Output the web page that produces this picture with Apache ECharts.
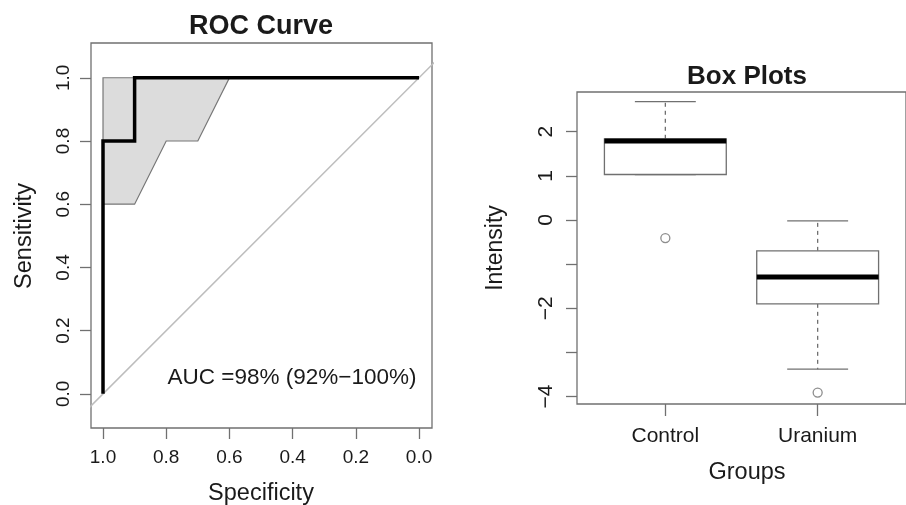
<!DOCTYPE html>
<html><head><meta charset="utf-8">
<script src="https://cdn.jsdelivr.net/npm/echarts@6/dist/echarts.min.js"></script>
<style>html,body{margin:0;padding:0;background:#fff}#c{width:906px;height:505px}</style>
</head><body><div id="c"></div>
<script>
// ROC data (specificity, sensitivity)
var rocSpec = [1.0, 1.0, 0.9, 0.9, 0.0];
var rocSens = [0.0, 0.8, 0.8, 1.0, 1.0];
// confidence band polygon (specificity, sensitivity)
var ciSpec = [1.0, 1.0, 0.6, 0.7, 0.8, 0.9, 1.0];
var ciSens = [0.6, 1.0, 1.0, 0.8, 0.8, 0.6, 0.6];
var rocTicks = [0, 0.2, 0.4, 0.6, 0.8, 1.0];
var aucText = 'AUC =98% (92%\u2212100%)';

// Box plot data
var groups = ['Control', 'Uranium'];
var lowerWhisker = [1.03, -3.38];
var q1 = [1.03, -1.90];
var median = [1.79, -1.29];
var q3 = [1.84, -0.70];
var upperWhisker = [2.68, -0.02];
var outliers = [[-0.41], [-3.91]];
var boxYTicks = [-4, -3, -2, -1, 0, 1, 2];
var boxYLabels = [-4, -2, 0, 1, 2];

var FONT = 'Liberation Sans, Arial, sans-serif';
var TXT = '#1a1a1a';
var GREY = '#707070';
function minus(v){ return String(v).replace('-', '\u2212'); }

var rocData = rocSpec.map(function(s,i){return [s, rocSens[i]];});
var ciData = ciSpec.map(function(s,i){return [s, ciSens[i]];});
var boxData = groups.map(function(g,i){return [i+1, lowerWhisker[i], q1[i], median[i], q3[i], upperWhisker[i]];});
var outData = [];
outliers.forEach(function(arr,i){arr.forEach(function(v){outData.push([i+1, v]);});});

var chart = echarts.init(document.getElementById('c'), null, {renderer:'canvas'});
chart.setOption({
  animation: false,
  backgroundColor: '#fff',
  grid: [
    {left: 91, top: 43, width: 341, height: 385, show: true, borderColor: GREY, borderWidth: 1.3, backgroundColor: 'transparent'},
    {left: 577, top: 92, width: 342, height: 312, show: true, borderColor: GREY, borderWidth: 1.3, backgroundColor: 'transparent'}
  ],
  xAxis: [
    {type:'value', gridIndex:0, inverse:true, min:-0.041, max:1.038,
     splitLine:{show:false}, axisLine:{show:false, onZero:false},
     axisTick:{show:true, length:11, customValues: rocTicks, lineStyle:{color:GREY, width:1.3}},
     axisLabel:{customValues: rocTicks, margin:20, fontSize:19, color:TXT, fontFamily:FONT,
       formatter:function(v){return v.toFixed(1);}}},
    {type:'value', gridIndex:1, min:0.42, max:2.58,
     splitLine:{show:false}, axisLine:{show:false, onZero:false},
     axisTick:{show:true, length:12, customValues:[1,2], lineStyle:{color:GREY, width:1.3}},
     axisLabel:{customValues:[1,2], margin:22, fontSize:21, color:TXT, fontFamily:FONT,
       formatter:function(v){return groups[Math.round(v)-1];}}}
  ],
  yAxis: [
    {type:'value', gridIndex:0, min:-0.108, max:1.11,
     splitLine:{show:false}, axisLine:{show:false, onZero:false},
     axisTick:{show:true, length:11, customValues: rocTicks, lineStyle:{color:GREY, width:1.3}},
     axisLabel:{customValues: rocTicks, rotate:90, margin:18, fontSize:19, color:TXT, fontFamily:FONT,
       formatter:function(v){return v.toFixed(1);}}},
    {type:'value', gridIndex:1, min:-4.17, max:2.90,
     splitLine:{show:false}, axisLine:{show:false, onZero:false},
     axisTick:{show:true, length:11, customValues: boxYTicks, lineStyle:{color:GREY, width:1.3}},
     axisLabel:{customValues: boxYLabels, rotate:90, margin:20, fontSize:21, color:TXT, fontFamily:FONT,
       formatter:function(v){return minus(v);}}}
  ],
  series: [
    {type:'custom', xAxisIndex:0, yAxisIndex:0, clip:true, data:[0],
     renderItem:function(params, api){
       var pts = ciData.map(function(d){return api.coord(d);});
       return {type:'polygon', shape:{points:pts}, style:{fill:'#dcdcdc', stroke:'#777', lineWidth:1.2}};
     }},
    {type:'line', xAxisIndex:0, yAxisIndex:0, data:[[1.1,-0.1],[-0.1,1.1]], clip:true,
     showSymbol:false, symbol:'none', lineStyle:{color:'#bdbdbd', width:1.5}, silent:true},
    {type:'line', xAxisIndex:0, yAxisIndex:0, data: rocData, showSymbol:false, symbol:'none',
     lineStyle:{color:'#000', width:3.5, join:'miter'}, silent:true},
    {type:'custom', xAxisIndex:1, yAxisIndex:1, data: boxData, clip:true,
     renderItem:function(params, api){
       var x = api.value(0);
       var lw = api.value(1), b1 = api.value(2), md = api.value(3), b3 = api.value(4), uw = api.value(5);
       var half = 0.4, cap = 0.2;
       function c(a,b){return api.coord([a,b]);}
       var pL = c(x-half, b3), pR = c(x+half, b1);
       var ch = [];
       ch.push({type:'line', shape:{x1:c(x,b3)[0], y1:c(x,b3)[1], x2:c(x,uw)[0], y2:c(x,uw)[1]}, style:{stroke:GREY, lineWidth:1.3, lineDash:[4,4]}});
       ch.push({type:'line', shape:{x1:c(x,b1)[0], y1:c(x,b1)[1], x2:c(x,lw)[0], y2:c(x,lw)[1]}, style:{stroke:GREY, lineWidth:1.3, lineDash:[4,4]}});
       ch.push({type:'line', shape:{x1:c(x-cap,uw)[0], y1:c(x-cap,uw)[1], x2:c(x+cap,uw)[0], y2:c(x+cap,uw)[1]}, style:{stroke:GREY, lineWidth:1.3}});
       ch.push({type:'line', shape:{x1:c(x-cap,lw)[0], y1:c(x-cap,lw)[1], x2:c(x+cap,lw)[0], y2:c(x+cap,lw)[1]}, style:{stroke:GREY, lineWidth:1.3}});
       ch.push({type:'rect', shape:{x:pL[0], y:pL[1], width:pR[0]-pL[0], height:pR[1]-pL[1]}, style:{fill:'#fff', stroke:GREY, lineWidth:1.3}});
       ch.push({type:'line', shape:{x1:c(x-half,md)[0], y1:c(x-half,md)[1], x2:c(x+half,md)[0], y2:c(x+half,md)[1]}, style:{stroke:'#000', lineWidth:5}});
       return {type:'group', children:ch};
     }},
    {type:'scatter', xAxisIndex:1, yAxisIndex:1, data: outData, symbol:'circle', symbolSize:9,
     itemStyle:{color:'transparent', borderColor:GREY, borderWidth:1.3}, silent:true}
  ],
  graphic: [
    {type:'text', x:261, y:27, style:{text:'ROC Curve', font:'bold 27px '+FONT, fill:TXT, textAlign:'center', textVerticalAlign:'middle'}},
    {type:'text', x:747, y:77, style:{text:'Box Plots', font:'bold 26px '+FONT, fill:TXT, textAlign:'center', textVerticalAlign:'middle'}},
    {type:'text', x:261, y:494, style:{text:'Specificity', font:'23.5px '+FONT, fill:TXT, textAlign:'center', textVerticalAlign:'middle'}},
    {type:'text', x:25, y:236, rotation:Math.PI/2, style:{text:'Sensitivity', font:'23.5px '+FONT, fill:TXT, textAlign:'center', textVerticalAlign:'middle'}},
    {type:'text', x:747, y:473, style:{text:'Groups', font:'23.5px '+FONT, fill:TXT, textAlign:'center', textVerticalAlign:'middle'}},
    {type:'text', x:496, y:248, rotation:Math.PI/2, style:{text:'Intensity', font:'23px '+FONT, fill:TXT, textAlign:'center', textVerticalAlign:'middle'}},
    {type:'text', x:292, y:378, style:{text:aucText, font:'22.5px '+FONT, fill:TXT, textAlign:'center', textVerticalAlign:'middle'}}
  ]
});
</script></body></html>
